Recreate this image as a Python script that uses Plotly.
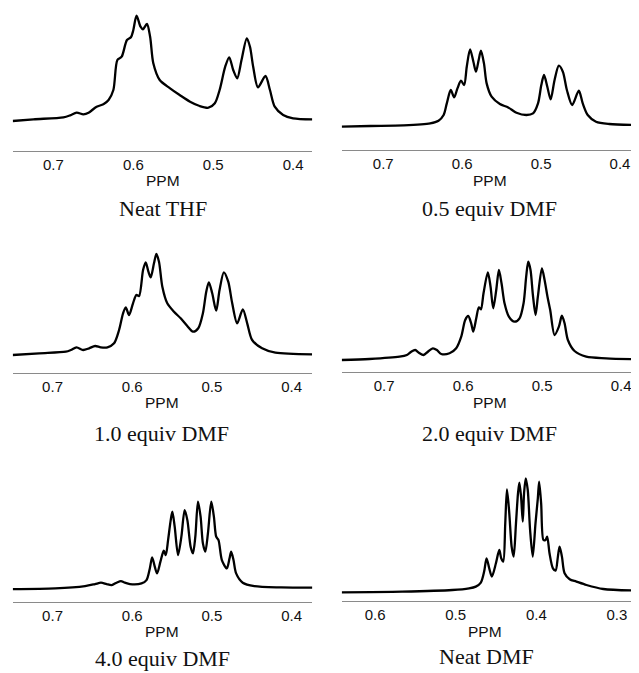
import plotly.graph_objects as go

# ---------------- data (ppm, relative intensity) ----------------
thf_ppm = [0.751, 0.725, 0.6875, 0.679, 0.671, 0.6625, 0.656, 0.646, 0.6375, 0.631, 0.625, 0.62, 0.6146,
           0.608, 0.603, 0.6, 0.596, 0.591, 0.588, 0.583, 0.579, 0.575, 0.567, 0.554, 0.542, 0.529, 0.517,
           0.506, 0.498, 0.492, 0.485, 0.48, 0.475, 0.47, 0.4646, 0.458, 0.454, 0.45, 0.444, 0.4346, 0.429,
           0.423, 0.4125, 0.4, 0.376]
thf_int = [0, 1.7, 3.7, 5.7, 8.3, 6.7, 8.3, 14.3, 16.7, 21, 31, 61, 64.3,
           81, 83.7, 91, 105.3, 94.3, 91.7, 97, 84.3, 57.7, 41, 32.7, 26, 19.3, 15,
           13.3, 17.7, 31, 54.3, 63.7, 51, 42.7, 61, 82.7, 74.3, 54.3, 33.7, 45, 31,
           14.3, 6, 2.7, 1.7]

dmf05_ppm = [0.7527, 0.7165, 0.6745, 0.6405, 0.63, 0.6235, 0.6195, 0.6145, 0.6102, 0.606, 0.6015, 0.5975,
             0.5942, 0.59, 0.5858, 0.5825, 0.5791, 0.5762, 0.5724, 0.569, 0.5627, 0.5522, 0.5417, 0.5312,
             0.5186, 0.5102, 0.5039, 0.4997, 0.4963, 0.4921, 0.4879, 0.4829, 0.4775, 0.4724, 0.4673, 0.4606,
             0.4522, 0.4472, 0.4409, 0.4304, 0.4136, 0.3759]
dmf05_int = [0, 0.7, 1.3, 3.3, 6, 11.7, 23.3, 36.7, 29.3, 38.3, 46, 41.7, 60,
             77.3, 65, 55, 66.7, 76, 63.3, 43.3, 30, 22.7, 19.3, 14, 11.7,
             13.3, 23.3, 41.7, 51.7, 40, 27.3, 46.7, 61, 55, 36.7, 21.7, 36,
             23.3, 11.7, 5, 2.7, 1.7]

dmf10_ppm = [0.750, 0.7167, 0.6833, 0.677, 0.6699, 0.6616, 0.6541, 0.6466, 0.6395, 0.6311, 0.6228, 0.6165,
             0.6115, 0.6081, 0.604, 0.599, 0.5948, 0.5914, 0.5864, 0.5831, 0.5797, 0.5768, 0.5727, 0.5697,
             0.5664, 0.5622, 0.556, 0.5476, 0.5392, 0.5309, 0.5238, 0.5171, 0.5113, 0.5071, 0.5038, 0.4996,
             0.4946, 0.4904, 0.485, 0.4795, 0.4745, 0.4683, 0.4612, 0.4557, 0.4495, 0.437, 0.4203, 0.3743]
dmf10_int = [0, 1.7, 3.3, 5, 7.7, 5, 6.7, 9, 7.7, 7.7, 11.7, 25,
             41.7, 47.7, 40, 51.7, 60, 59, 85, 92.7, 83.3, 77.7, 91.7, 101,
             93.3, 68.3, 51.7, 43.3, 36.7, 29, 23.3, 26.7, 41.7, 63.3, 72.7, 61.7,
             44.3, 65, 82.7, 73.3, 51.7, 31.7, 45.7, 31.7, 15, 6.7, 2.3, 0.7]

dmf20_ppm = [0.7536, 0.7184, 0.6804, 0.6711, 0.6656, 0.6606, 0.6559, 0.65, 0.6445, 0.6382, 0.6331, 0.6276,
             0.6171, 0.6087, 0.6023, 0.5973, 0.5935, 0.5897, 0.5871, 0.5833, 0.58, 0.5774, 0.5741, 0.5686,
             0.5652, 0.5618, 0.558, 0.5546, 0.5513, 0.5475, 0.542, 0.5348, 0.5285, 0.5234, 0.5201, 0.5175,
             0.5146, 0.5116, 0.5082, 0.5053, 0.5002, 0.4968, 0.493, 0.4897, 0.4842, 0.4787, 0.4749, 0.4715,
             0.4673, 0.4589, 0.4441, 0.4188, 0.3773]
dmf20_int = [0, 1, 3.3, 5, 8.3, 10, 7.3, 5, 8.3, 11.7, 10, 6,
             6.7, 11.7, 23.3, 40, 44, 36.7, 28.3, 41.7, 52.7, 50.7, 66.7, 87.7,
             73.3, 51.7, 70, 90, 76.7, 56.7, 43.3, 38.3, 41.7, 56.7, 83.3, 98.3,
             90, 65, 45, 63.3, 91.7, 80, 62.7, 50, 25, 33.3, 44.3, 36.7,
             20, 9, 3.3, 1.7, 0.7]

dmf40_ppm = [0.75, 0.6967, 0.6592, 0.6467, 0.6392, 0.6321, 0.6258, 0.6196, 0.6142, 0.6092, 0.6029, 0.5883,
             0.5821, 0.5779, 0.575, 0.5717, 0.5688, 0.5646, 0.5604, 0.5579, 0.555, 0.5517, 0.5496, 0.5467,
             0.5425, 0.5383, 0.5342, 0.5308, 0.5267, 0.5238, 0.5208, 0.5175, 0.5142, 0.5113, 0.5083, 0.505,
             0.5008, 0.4975, 0.4946, 0.4917, 0.4875, 0.4813, 0.4779, 0.4758, 0.4729, 0.4696, 0.4613, 0.4467,
             0.4133, 0.3738]
dmf40_int = [-0.7, 0, 2.3, 4.3, 5.7, 4.3, 3.3, 5.7, 7.3, 5.7, 4.3, 5,
             8.3, 20, 31, 21.7, 15, 26.7, 37.7, 33.3, 48.3, 68.3, 76.7, 61.7,
             33.3, 51.7, 78.3, 68.3, 41.7, 35, 51.7, 86.7, 71.7, 45, 36.7, 55,
             86.7, 71.7, 51.7, 48.3, 28.3, 20, 30, 36.7, 28.3, 15, 5.7, 2.3,
             1, 0.7]

neat_dmf_ppm = [0.6414, 0.5665, 0.5042, 0.4834, 0.4751, 0.4688, 0.4647, 0.4617, 0.4584, 0.4551, 0.4501, 0.4459,
                0.4435, 0.441, 0.4385, 0.4364, 0.4335, 0.4306, 0.4281, 0.4252, 0.4227, 0.421, 0.4189, 0.4168,
                0.4152, 0.4131, 0.4106, 0.4077, 0.4044, 0.401, 0.3981, 0.3965, 0.394, 0.3911, 0.3886, 0.3865,
                0.3836, 0.3794, 0.3761, 0.3732, 0.3711, 0.3682, 0.3649, 0.3586, 0.3503, 0.3378, 0.317, 0.2726]
neat_dmf_int = [0, 0.7, 2.3, 4, 5.7, 9.7, 20.7, 34, 24, 15.7, 29, 42.3,
                34, 30.7, 69, 103, 79, 45.7, 35.7, 69, 99, 109.7, 95.7, 70.7,
                99, 114, 102.3, 62.3, 35.7, 69, 94, 110.7, 89, 52.3, 52.3, 55.7,
                39, 24, 21.7, 35.7, 45.7, 35.7, 19, 13, 10.7, 7.3, 3.3, 1.7]

captions = ["Neat THF", "0.5 equiv DMF", "1.0 equiv DMF", "2.0 equiv DMF", "4.0 equiv DMF", "Neat DMF"]
ticks_thf_dmf = [0.7, 0.6, 0.5, 0.4]
ticks_neat_dmf = [0.6, 0.5, 0.4, 0.3]

series = [(thf_ppm, thf_int), (dmf05_ppm, dmf05_int), (dmf10_ppm, dmf10_int),
          (dmf20_ppm, dmf20_int), (dmf40_ppm, dmf40_int), (neat_dmf_ppm, neat_dmf_int)]
tick_sets = [ticks_thf_dmf] * 5 + [ticks_neat_dmf]

# ---------------- layout geometry (page pixels; page body has an 8px margin) ----------------
OFF = 8
W, H = 639 - OFF, 673 - OFF
x_px = [(12.7, 312.3), (341.7, 639), (12.7, 312.3), (341.7, 639), (12.7, 312.3), (341.7, 639)]
x_ranges = [(0.751, 0.376), (0.7527, 0.3759), (0.750, 0.374), (0.7536, 0.3773), (0.750, 0.374), (0.6414, 0.2726)]
axis_y = [150.7, 150.0, 372.7, 372.3, 601.7, 601.3]
gaps = [29.7, 23.3, 17.7, 12.3, 13.3, 9.0]
dom_h = 140
ppm_lbl = [(163, 181), (490, 181), (162, 402), (490, 402), (162, 631), (485, 631)]
cap_pos = [(163, 208), (489, 208), (161, 433), (489, 433), (162, 658), (486, 656)]


def fx(p):
    return (p - OFF) / W


def fy(p):
    return 1 - (p - OFF) / H


fig = go.Figure()
layout = dict(width=W, height=H, margin=dict(l=0, r=0, t=0, b=0),
              paper_bgcolor="white", plot_bgcolor="rgba(0,0,0,0)", showlegend=False)
annotations = []
for i, ((px, iy), ticks) in enumerate(zip(series, tick_sets)):
    n = "" if i == 0 else str(i + 1)
    fig.add_trace(go.Scatter(x=px, y=iy, mode="lines", xaxis="x" + n, yaxis="y" + n,
                             line=dict(color="black", width=2.3, shape="spline", smoothing=0.8),
                             hoverinfo="skip"))
    x0, x1 = x_px[i]
    layout["xaxis" + n] = dict(domain=[max(fx(x0), 0), min(fx(x1), 1)], range=list(x_ranges[i]),
                               anchor="y" + n,
                               showline=True, linecolor="#8a8a8a", linewidth=1, ticks="",
                               showgrid=False, zeroline=False, tickvals=ticks,
                               ticktext=[f"{t:.1f}" for t in ticks],
                               tickfont=dict(family="Liberation Sans, Arial", size=15, color="#111"))
    layout["yaxis" + n] = dict(domain=[fy(axis_y[i]), fy(axis_y[i] - dom_h)],
                               range=[-gaps[i], dom_h - gaps[i]], anchor="x" + n,
                               visible=False, showgrid=False, zeroline=False)
    annotations.append(dict(text="PPM", x=fx(ppm_lbl[i][0]), y=fy(ppm_lbl[i][1]), xref="paper",
                            yref="paper", showarrow=False, xanchor="center", yanchor="middle",
                            font=dict(family="Liberation Sans, Arial", size=15.5, color="#111")))
    annotations.append(dict(text=captions[i], x=fx(cap_pos[i][0]), y=fy(cap_pos[i][1]), xref="paper",
                            yref="paper", showarrow=False, xanchor="center", yanchor="middle",
                            font=dict(family="Liberation Serif, Times New Roman", size=22, color="#111")))
layout["annotations"] = annotations
fig.update_layout(**layout)
fig.write_html("out.html")
